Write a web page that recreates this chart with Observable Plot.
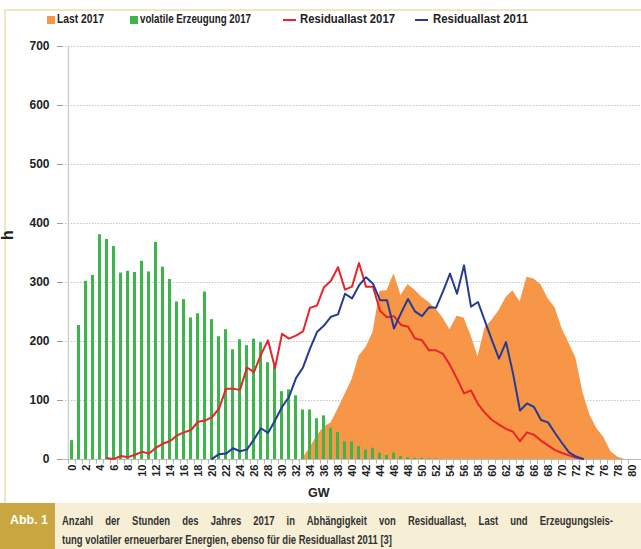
<!DOCTYPE html>
<html>
<head>
<meta charset="utf-8">
<script src="https://cdn.jsdelivr.net/npm/d3@7"></script>
<script src="https://cdn.jsdelivr.net/npm/@observablehq/plot@0.6"></script>
<style>
  body { margin: 0; background: #fff; }
  #wrap { position: relative; width: 641px; height: 549px; overflow: hidden; font-family: "Liberation Sans", Arial, sans-serif; }
  #frame { position: absolute; left: 4px; top: 9px; width: 637px; height: 494px; border-left: 2px solid #efe6c6; border-top: 2px solid #efe6c6; box-sizing: border-box; }
  .leg { position: absolute; top: 12px; font-weight: bold; font-size: 12.5px; color: #222; line-height: 15px; white-space: nowrap; display: inline-block; transform-origin: 0 0; }
  .sq { position: absolute; top: 16px; width: 8px; height: 8px; }
  .ln { position: absolute; top: 19px; width: 13px; height: 2px; }
  #chart { position: absolute; left: 0; top: 38px; }
  #chart svg text { fill: #222; font-weight: bold; }
  #chart g[aria-label^="x-axis"] text { font-size: 11px; }
  #chart g[aria-label^="y-axis"] text { font-size: 12px; }
  #ytitle { position: absolute; left: 3px; top: 226px; transform: rotate(-90deg); font-weight: bold; font-size: 16px; color: #222; }
  #xtitle { position: absolute; left: 308px; top: 486px; font-weight: bold; font-size: 12.5px; color: #222; }
  #caption { position: absolute; left: 0; top: 503px; width: 641px; height: 46px; background: #f6efd6; }
  #abb { position: absolute; left: 0; top: 0; width: 55px; height: 46px; background: #c9a640; }
  #abb span { position: absolute; left: 10px; top: 9px; color: #fff; font-weight: bold; font-size: 13px; display: inline-block; transform-origin: 0 0; white-space: nowrap; }
  .cap { position: absolute; left: 62px; font-weight: bold; font-size: 13px; line-height: 16px; color: #333; white-space: nowrap; display: inline-block; transform-origin: 0 0; }
</style>
</head>
<body>
<div id="wrap">
  <div id="frame"></div>
  <div class="sq" style="left:47px;background:#f79646"></div>
  <div class="leg" style="left:57px" data-w="47">Last 2017</div>
  <div class="sq" style="left:130px;background:#3cb54a"></div>
  <div class="leg" style="left:140px" data-w="111">volatile Erzeugung 2017</div>
  <div class="ln" style="left:283px;background:#e8252a"></div>
  <div class="leg" style="left:300px" data-w="95">Residuallast 2017</div>
  <div class="ln" style="left:415px;background:#263a96"></div>
  <div class="leg" style="left:433px" data-w="95">Residuallast 2011</div>
  <div id="chart"></div>
  <div id="ytitle">h</div>
  <div id="xtitle">GW</div>
  <div id="caption">
    <div id="abb"><span data-w="38">Abb. 1</span></div>
    <div class="cap" id="cap1" style="top:10px">Anzahl der Stunden des Jahres 2017 in Abhängigkeit von Residuallast, Last und Erzeugungsleis-</div>
    <div class="cap" id="cap2" style="top:29px">tung volatiler erneuerbarer Energien, ebenso für die Residuallast 2011 [3]</div>
  </div>
</div>
<script>
// GW categories 0..80
const gw = d3.range(0, 81);
const yTicks = [0, 100, 200, 300, 400, 500, 600, 700];

// volatile Erzeugung 2017 (h), starting at 0 GW
const erzeugungFrom = 0;
const erzeugung = [32,227,302,312,381,373,361,316,319,317,
  336,318,368,326,305,267,271,240,247,284,
  237,208,220,186,203,193,204,198,164,159,
  115,118,108,84,84,69,74,53,46,30,
  30,22,16,19,11,7,11,5,3,2,
  2,1,1];

// Last 2017 (h), starting at 33 GW
const lastFrom = 33;
const last = [2,20,40,55,62,85,110,135,175,190,
  215,285,286,315,278,296,287,275,266,255,
  240,220,243,240,210,174,223,236,252,274,
  286,267,309,306,296,273,257,222,197,171,
  113,75,52,37,13,4,0];

// Residuallast 2017 (h), starting at 5 GW
const res2017From = 5;
const res2017 = [2,1,6,4,8,13,10,20,27,31,
  41,46,50,64,66,72,86,120,120,118,
  156,148,178,202,155,213,205,210,217,257,
  261,292,303,326,288,293,333,293,293,252,
  241,243,228,225,205,202,185,185,179,160,
  137,112,117,94,79,67,59,52,47,31,
  46,42,32,24,16,11,7,3,1];

// Residuallast 2011 (h), starting at 20 GW
const res2011From = 20;
const res2011 = [1,9,10,19,14,17,34,53,45,66,
  89,106,138,156,188,216,227,242,246,281,
  273,295,309,298,270,270,222,248,272,251,
  243,258,257,285,315,281,329,259,267,234,
  202,171,199,146,83,95,89,67,63,45,
  28,12,5,1];

const toRows = (arr, from) => arr.map((h, i) => ({gw: from + i, h}));
const erzRows = toRows(erzeugung, erzeugungFrom);
const lastRows = toRows(last, lastFrom);
const r17Rows = toRows(res2017, res2017From);
const r11Rows = toRows(res2011, res2011From);

const W = 641, H = 465, ML = 62, MR = 0, MT = 8, MB = 44;
const step = (W - ML - MR) / gw.length;

const chart = Plot.plot({
  width: W,
  height: H,
  marginLeft: ML,
  marginRight: MR,
  marginTop: MT,
  marginBottom: MB,
  style: {background: "transparent", color: "#9a9a9a", fontFamily: "'Liberation Sans', Arial, sans-serif", overflow: "visible"},
  x: {type: "band", domain: gw, paddingInner: 0.55, paddingOuter: 0.275,
      tickFormat: d => d % 2 === 0 ? String(d) : "", tickRotate: -90,
      tickSize: 0, tickPadding: 5, label: null},
  y: {domain: [0, 700], ticks: yTicks, tickSize: 5, tickPadding: 8, label: null},
  marks: [
    Plot.ruleY(yTicks.filter(d => d > 0), {stroke: "#c4c4c4", strokeDasharray: "1.5,1.5"}),
    Plot.ruleX([0], {dx: -step / 2, stroke: "#cfcfcf", strokeWidth: 1.5}),
    Plot.ruleX(gw, {x: d => d, y1: 0, y2: -8, dx: -step / 2, stroke: "#b0b0b0"}),
    Plot.areaY(lastRows, {x: "gw", y: "h", fill: "#f79646"}),
    Plot.barY(erzRows, {x: "gw", y: "h", fill: "#3cb54a"}),
    Plot.ruleY([0], {stroke: "#b8b8b8"}),
    Plot.lineY(r17Rows, {x: "gw", y: "h", stroke: "#e8252a", strokeWidth: 2}),
    Plot.lineY(r11Rows, {x: "gw", y: "h", stroke: "#263a96", strokeWidth: 2})
  ]
});
document.getElementById("chart").appendChild(chart);

// condense text horizontally to the reference widths
document.querySelectorAll("[data-w]").forEach(el => {
  const w = el.getBoundingClientRect().width;
  const target = +el.dataset.w;
  if (w > 0) el.style.transform = `scaleX(${target / w})`;
});
// caption: condensed type, last line natural width, first line justified
const c1 = document.getElementById("cap1"), c2 = document.getElementById("cap2");
const capScale = 330 / c2.getBoundingClientRect().width;
c2.style.transform = `scaleX(${capScale})`;
const w1 = c1.getBoundingClientRect().width;
const spaces = (c1.textContent.match(/ /g) || []).length;
const extra = (551 / capScale - w1) / spaces;
if (extra > 0) c1.style.wordSpacing = extra + "px";
c1.style.transform = `scaleX(${capScale})`;
</script>
</body>
</html>
